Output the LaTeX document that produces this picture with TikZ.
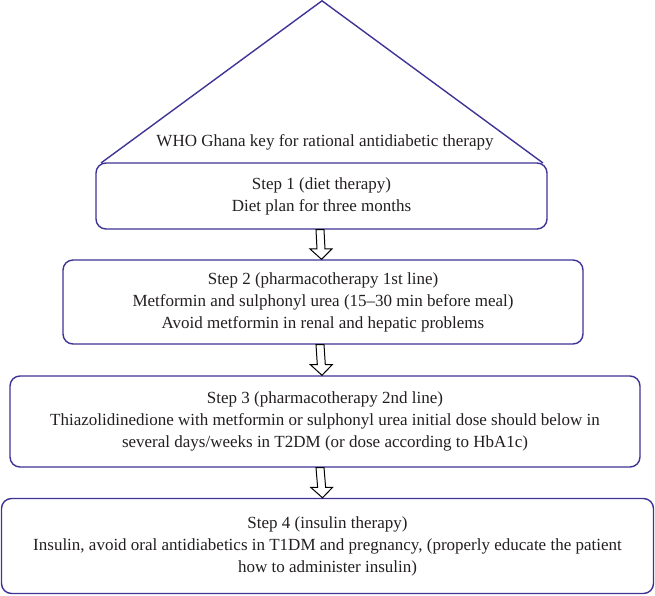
\documentclass[tikz,border=0pt]{standalone}
\usepackage{fontspec}
\setmainfont{Liberation Serif}
\usetikzlibrary{calc}
\definecolor{boxline}{RGB}{62,52,150}
\definecolor{txt}{RGB}{35,31,32}
\tikzset{
  stepbox/.style={draw=boxline, line width=1.4pt, rounded corners=10pt, fill=white,
    align=center, text=txt, font=\fontsize{17}{22}\selectfont, inner sep=0pt},
  blockarrow/.style={draw=black, line width=1pt, fill=white, line join=miter},
}
\begin{document}
\begin{tikzpicture}[x=1pt,y=-1pt]
\useasboundingbox (0,0) rectangle (655,596);
% triangle
\coordinate (apex) at (322,0.8);
\coordinate (tl) at (101,163);
\coordinate (tr) at (543,163);
\draw[draw=boxline, line width=1.4pt, line join=round] (tl) -- (apex) -- (tr);
\node[text=txt, font=\fontsize{17}{22}\selectfont] (title) at (325,142) {WHO Ghana key for rational antidiabetic therapy};
% boxes
\node[stepbox, minimum width=451pt, minimum height=66pt] (s1) at (321.5,196)
  {Step 1 (diet therapy)\\Diet plan for three months};
\node[stepbox, minimum width=520pt, minimum height=84pt] (s2) at (323,302)
  {Step 2 (pharmacotherapy 1st line)\\Metformin and sulphonyl urea (15--30 min before meal)\\Avoid metformin in renal and hepatic problems};
\node[stepbox, minimum width=630pt, minimum height=91pt] (s3) at (325,421.5)
  {Step 3 (pharmacotherapy 2nd line)\\Thiazolidinedione with metformin or sulphonyl urea initial dose should below in\\several days/weeks in T2DM (or dose according to HbA1c)};
\node[stepbox, minimum width=652pt, minimum height=95pt] (s4) at (327.5,546)
  {Step 4 (insulin therapy)\\Insulin, avoid oral antidiabetics in T1DM and pregnancy, (properly educate the patient\\how to administer insulin)};
% block arrows
\foreach \a/\b/\dx in {s1/s2/-1.5, s2/s3/-3, s3/s4/-5}{
  \draw[blockarrow]
    ($(\a.south)+(\dx-4,0)$) -- ($(\a.south)+(\dx+4,0)$)
    -- ($(\b.north)!0.35!(\a.south)+(\dx+4,0)$)
    -- ($(\b.north)!0.35!(\a.south)+(\dx+11,0)$)
    -- ($(\b.north)+(\dx,0)$)
    -- ($(\b.north)!0.35!(\a.south)+(\dx-11,0)$)
    -- ($(\b.north)!0.35!(\a.south)+(\dx-4,0)$) -- cycle;
}
\end{tikzpicture}
\end{document}
